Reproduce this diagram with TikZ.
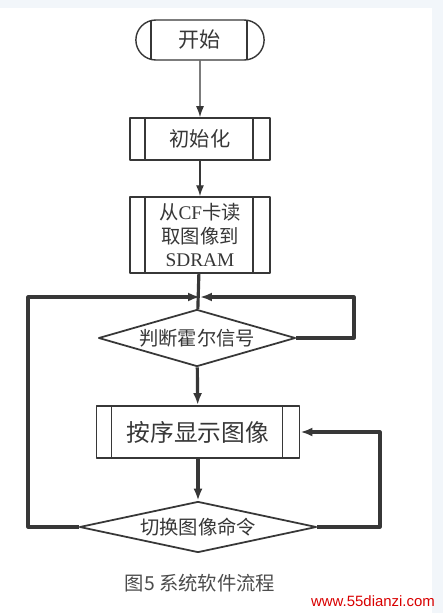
\documentclass[tikz,border=0pt]{standalone}
\usepackage{fontspec}
\setmainfont{Liberation Serif}
\newfontfamily\cjk{Noto Sans CJK SC}
\newfontfamily\websans{Liberation Sans}
\usetikzlibrary{shapes.geometric,shapes.misc,arrows.meta}
\definecolor{bgtint}{RGB}{242,246,250}
\definecolor{ink}{RGB}{55,55,55}

\begin{document}
\begin{tikzpicture}[x=0.02cm, y=-0.02cm, line join=round,
    every node/.style={font=\cjk, text=ink},
    terminal/.style={rounded rectangle, draw=ink, line width=0.8pt,
        minimum width=2.8cm, minimum height=0.8cm,
        path picture={\draw[ink, line width=0.8pt]
            ([xshift=0.3cm]path picture bounding box.north west) -- ([xshift=0.3cm]path picture bounding box.south west)
            ([xshift=-0.34cm]path picture bounding box.north east) -- ([xshift=-0.34cm]path picture bounding box.south east);}},
    subproc/.style={rectangle, draw=ink, line width=0.9pt, minimum width=2.8cm,
        path picture={\draw[ink, line width=0.9pt]
            ([xshift=0.3cm]path picture bounding box.north west) -- ([xshift=0.3cm]path picture bounding box.south west)
            ([xshift=-0.34cm]path picture bounding box.north east) -- ([xshift=-0.34cm]path picture bounding box.south east);}},
    decision/.style={diamond, draw=ink, line width=1pt, inner sep=0pt},
    thinflow/.style={draw=ink, line width=0.8pt, -{Latex[length=2.2mm,width=1.6mm]}},
    flow/.style={draw=ink, line width=1.8pt, -{Latex[length=2.4mm,width=1.8mm]}},
    plainflow/.style={draw=ink, line width=1.8pt}
]
    % Background
    \fill[bgtint] (0,0) rectangle (443,613);
    \fill[white] (0,8) rectangle (432,613);
    \useasboundingbox (0,0) rectangle (443,613);

    % Blocks
    \node[terminal, font=\cjk\fontsize{12}{14}\selectfont] (start) at (200,40) {开始};
    \node[subproc, minimum height=0.84cm, font=\cjk\fontsize{11.5}{14}\selectfont] (init) at (200,139) {初始化};
    \node[subproc, minimum height=1.48cm, align=center, font=\cjk\fontsize{11}{13.6}\selectfont] (read) at (200,235) {从{\rmfamily CF}卡读\\取图像到\\{\rmfamily SDRAM}};
    \node[decision, minimum width=3.94cm, minimum height=1.14cm, shape aspect=3.5, font=\cjk\fontsize{11}{13}\selectfont] (hall) at (197,338) {判断霍尔信号};
    \node[subproc, minimum width=4.06cm, minimum height=1.04cm, line width=1.1pt, font=\cjk\fontsize{13.5}{16}\selectfont] (show) at (198,432) {按序显示图像};
    \node[decision, minimum width=4.74cm, minimum height=1.02cm, shape aspect=4.6, font=\cjk\fontsize{11}{13}\selectfont] (switch) at (198,527) {切换图像命令};

    % Loop corners
    \coordinate (j) at (200,297);
    \coordinate (rx) at (354,297);
    \coordinate (lx) at (28,297);
    \coordinate (rx2) at (380,432);

    % Connectors
    \draw[thinflow] (start) -- (init);
    \draw[thinflow] (init) -- (read);
    \draw[plainflow] (read) -- (hall);
    \draw[flow] (hall) -- (show);
    \draw[flow] (show) -- (switch);
    \draw[flow] (hall.east) -| (rx) -- (j);
    \draw[flow] (switch.west) -| (lx) -- (j);
    \draw[flow] (switch.east) -| (rx2) -- (show.east);

    % Caption
    \node[font=\cjk\fontsize{11}{13}\selectfont, text=black!70] (caption) at (200,583) {图5 系统软件流程};
    \node[font=\websans\fontsize{8.5}{10}\selectfont, text=red!85!black] (mark) at (373,601) {www.55dianzi.com};
\end{tikzpicture}
\end{document}
